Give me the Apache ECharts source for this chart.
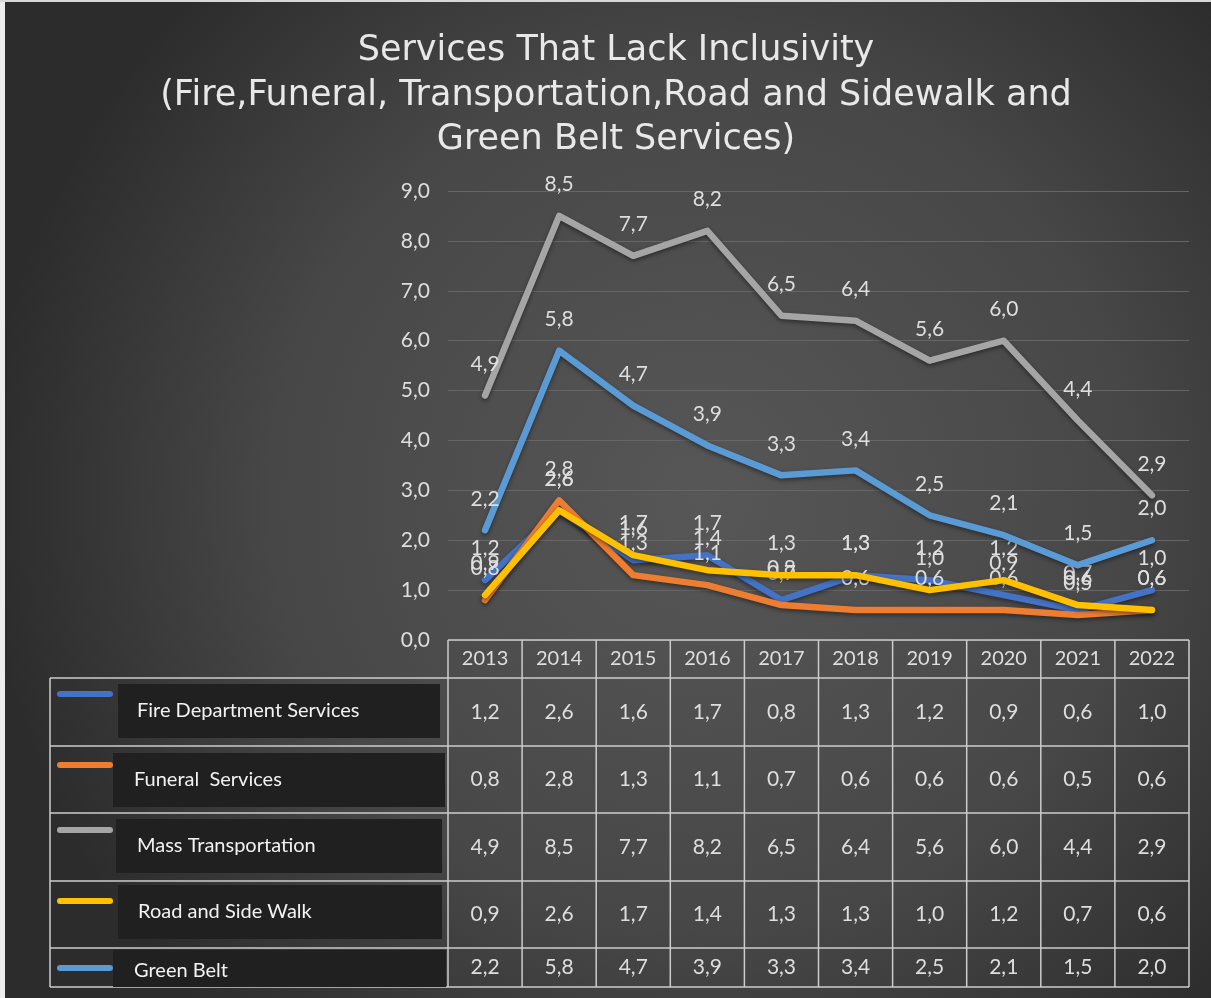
<!DOCTYPE html>
<html>
<head>
<meta charset="utf-8">
<script src="https://cdn.jsdelivr.net/npm/echarts@6/dist/echarts.min.js"></script>
<style>html,body{margin:0;padding:0;background:#333;}#c{width:1211px;height:998px;}</style>
</head>
<body>
<div id="c"></div>
<script>
const years = ['2013','2014','2015','2016','2017','2018','2019','2020','2021','2022'];
const fireDept = [1.2,2.6,1.6,1.7,0.8,1.3,1.2,0.9,0.6,1.0];
const funeral = [0.8,2.8,1.3,1.1,0.7,0.6,0.6,0.6,0.5,0.6];
const massTransport = [4.9,8.5,7.7,8.2,6.5,6.4,5.6,6.0,4.4,2.9];
const roadSideWalk = [0.9,2.6,1.7,1.4,1.3,1.3,1.0,1.2,0.7,0.6];
const greenBelt = [2.2,5.8,4.7,3.9,3.3,3.4,2.5,2.1,1.5,2.0];
const seriesNames = ['Fire Department Services','Funeral  Services','Mass Transportation','Road and Side Walk','Green Belt'];
const seriesData = [fireDept, funeral, massTransport, roadSideWalk, greenBelt];
const seriesColors = ['#4472C4','#ED7D31','#A5A5A5','#FFC000','#5B9BD5'];
const titleText = 'Services That Lack Inclusivity\n(Fire,Funeral, Transportation,Road and Sidewalk and\nGreen Belt Services)';

const fmt = v => v.toFixed(1).replace('.', ',');
const txtColor = '#dedede';
const bodyFont = 'Lato, "Open Sans", sans-serif';

const chart = echarts.init(document.getElementById('c'), null, {renderer: 'canvas'});

const option = {
  backgroundColor: {
    type: 'radial', x: 0.58, y: 0.5, r: 0.72,
    colorStops: [{offset: 0, color: '#575757'}, {offset: 0.6, color: '#474747'}, {offset: 1, color: '#2c2c2c'}]
  },
  animation: false,
  title: {
    text: titleText,
    left: 611, top: 24, textAlign: 'center',
    textStyle: {fontFamily: '"DejaVu Sans", Verdana, sans-serif', fontSize: 35, fontWeight: 'normal', lineHeight: 44.5, color: '#e8e8e8'}
  },
  grid: {left: 448, right: 22, top: 191, bottom: 358, containLabel: false},
  xAxis: {
    type: 'category', data: years, boundaryGap: true,
    axisLine: {show: false}, axisTick: {show: false}, axisLabel: {show: false}
  },
  yAxis: {
    type: 'value', min: 0, max: 9, interval: 1,
    axisLine: {show: false}, axisTick: {show: false},
    axisLabel: {formatter: v => fmt(v), color: txtColor, fontFamily: bodyFont, fontSize: 21, margin: 18},
    splitLine: {lineStyle: {color: '#666666', width: 1}}
  },
  series: seriesData.map((d, i) => ({
    name: seriesNames[i], type: 'line', data: d,
    symbol: 'circle', symbolSize: 4,
    itemStyle: {color: seriesColors[i]},
    lineStyle: {width: 6.5, color: seriesColors[i], cap: 'round', join: 'round',
      shadowBlur: 4, shadowColor: 'rgba(0,0,0,0.45)', shadowOffsetY: 2},
    label: {show: true, position: 'top', distance: 19, formatter: p => fmt(p.value),
      color: txtColor, fontFamily: bodyFont, fontSize: 21},
    z: 2 + i
  }))
};
chart.setOption(option);

// build data table below the plot from the axis scale
const cx = years.map((y, i) => chart.convertToPixel({xAxisIndex: 0}, i));
const band = cx[1] - cx[0];
const bounds = [cx[0] - band / 2].concat(cx.map(c => c + band / 2));
const y0 = chart.convertToPixel({yAxisIndex: 0}, 0);
const rowTops = [y0, y0 + 38, y0 + 106, y0 + 173, y0 + 241, y0 + 308, y0 + 347];
const tableLeft = 50;
const lineColor = '#cccccc';
const els = [];

// left white frame strip
els.push({type: 'rect', shape: {x: 0, y: 0, width: 5, height: 998}, style: {fill: '#ececec'}, z: 1});
els.push({type: 'rect', shape: {x: 0, y: 0, width: 1211, height: 2}, style: {fill: '#d8d8d8'}, z: 1});

// label boxes
const boxes = [
  {x: 118, y: rowTops[1] + 6, w: 322, h: 54, tx: 137},
  {x: 113, y: rowTops[2] + 7, w: 332, h: 54, tx: 134},
  {x: 116, y: rowTops[3] + 6, w: 326, h: 54, tx: 137},
  {x: 118, y: rowTops[4] + 4, w: 324, h: 54, tx: 138},
  {x: 113, y: rowTops[5] + 2, w: 333, h: 37, tx: 134}
];
const keyY = [rowTops[1] + 16, rowTops[2] + 19, rowTops[3] + 17, rowTops[4] + 20, rowTops[5] + 20];
seriesNames.forEach((n, i) => {
  const b = boxes[i];
  els.push({type: 'rect', shape: {x: b.x, y: b.y, width: b.w, height: b.h}, style: {fill: '#202020'}, z: 5});
  els.push({type: 'text', style: {text: n, x: b.tx, y: b.y + b.h / 2 + (i === 4 ? 2 : 0), fill: '#f2f2f2',
    font: '20px ' + bodyFont, textAlign: 'left', textVerticalAlign: 'middle'}, z: 6});
  els.push({type: 'line', shape: {x1: 60, y1: keyY[i], x2: 110, y2: keyY[i]},
    style: {stroke: seriesColors[i], lineWidth: 6, lineCap: 'round'}, z: 6});
});

// horizontal lines
els.push({type: 'line', shape: {x1: bounds[0], y1: rowTops[0], x2: bounds[10], y2: rowTops[0]}, style: {stroke: lineColor, lineWidth: 1.5}, z: 4});
for (let r = 1; r < rowTops.length; r++) {
  els.push({type: 'line', shape: {x1: tableLeft, y1: rowTops[r], x2: bounds[10], y2: rowTops[r]}, style: {stroke: lineColor, lineWidth: 1.5}, z: 4});
}
// vertical lines
els.push({type: 'line', shape: {x1: tableLeft, y1: rowTops[1], x2: tableLeft, y2: rowTops[6]}, style: {stroke: lineColor, lineWidth: 1.5}, z: 4});
bounds.forEach(bx => {
  els.push({type: 'line', shape: {x1: bx, y1: rowTops[0], x2: bx, y2: rowTops[6]}, style: {stroke: lineColor, lineWidth: 1.5}, z: 4});
});
// header years
years.forEach((y, i) => {
  els.push({type: 'text', style: {text: y, x: cx[i], y: (rowTops[0] + rowTops[1]) / 2, fill: txtColor,
    font: '20px ' + bodyFont, textAlign: 'center', textVerticalAlign: 'middle'}, z: 6});
});
// values
seriesData.forEach((d, r) => {
  const ym = (rowTops[r + 1] + rowTops[r + 2]) / 2;
  d.forEach((v, i) => {
    els.push({type: 'text', style: {text: fmt(v), x: cx[i], y: ym, fill: txtColor,
      font: '21px ' + bodyFont, textAlign: 'center', textVerticalAlign: 'middle'}, z: 6});
  });
});

chart.setOption({graphic: {elements: els}});
</script>
</body>
</html>
